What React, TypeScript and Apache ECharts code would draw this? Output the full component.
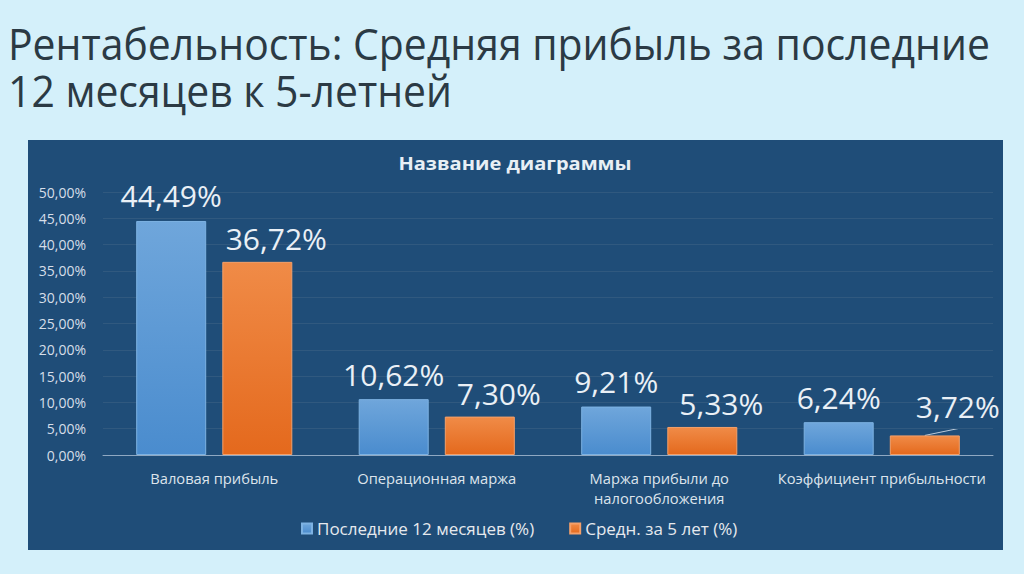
import React, { useEffect, useRef } from "react";
import * as echarts from "echarts";

const categories = [
  "Валовая прибыль",
  "Операционная маржа",
  "Маржа прибыли до\nналогообложения",
  "Коэффициент прибыльности",
];
const last12 = [44.49, 10.62, 9.21, 6.24];
const avg5 = [36.72, 7.3, 5.33, 3.72];
const seriesNames = ["Последние 12 месяцев (%)", "Средн. за 5 лет (%)"];
const titleLines = ["Рентабельность: Средняя прибыль за последние", "12 месяцев к 5-летней"];
const chartTitle = "Название диаграммы";

const fmt = (v: number) => v.toFixed(2).replace(".", ",") + "%";
const FONT = "'Open Sans', 'Noto Sans', sans-serif";

export default function App() {
  const ref = useRef<HTMLDivElement>(null);
  useEffect(() => {
    if (!ref.current) return;
    const chart = echarts.init(ref.current, null, { renderer: "svg" });
    const blue = new echarts.graphic.LinearGradient(0, 0, 0, 1, [
      { offset: 0, color: "#6fa6db" },
      { offset: 1, color: "#4a8cce" },
    ]);
    const orange = new echarts.graphic.LinearGradient(0, 0, 0, 1, [
      { offset: 0, color: "#f08b47" },
      { offset: 1, color: "#e4691d" },
    ]);
    const baseGraphic: any[] = [
      {
        id: "panel",
        type: "rect",
        z: -10,
        shape: { x: 28, y: 140, width: 975, height: 410 },
        style: { fill: "#1f4d78" },
        silent: true,
      },
      {
        id: "mainTitle",
        type: "text",
        x: 8,
        y: 19,
        scaleX: 0.93,
        style: {
          text: titleLines.join("\n"),
          fontSize: 44,
          lineHeight: 47,
          fontFamily: FONT,
          fill: "#2b3a44",
        },
      },
      {
        id: "chartTitle",
        type: "text",
        x: 515,
        y: 163,
        scaleX: 1.18,
        style: {
          text: chartTitle,
          fontSize: 17,
          fontWeight: "bold",
          fontFamily: FONT,
          fill: "#e8eff5",
          align: "center",
          verticalAlign: "middle",
        },
      },
    ];
    chart.setOption({
      animation: false,
      backgroundColor: "#d4f0fa",
      textStyle: { fontFamily: FONT },
      graphic: baseGraphic,
      legend: {
        bottom: 32,
        left: 296,
        itemWidth: 10,
        itemHeight: 10,
        itemGap: 35,
        icon: "rect",
        textStyle: { color: "#e6e9ee", fontSize: 17, fontFamily: FONT },
        data: seriesNames,
      },
      grid: { left: 103, right: 31, top: 192, bottom: 119 },
      xAxis: {
        type: "category",
        data: categories,
        axisLine: { lineStyle: { color: "#8fa8c2", width: 1 } },
        axisTick: { show: false },
        axisLabel: { color: "#dde4ec", fontSize: 14.7, margin: 13, lineHeight: 20, interval: 0 },
      },
      yAxis: {
        type: "value",
        min: 0,
        max: 50,
        interval: 5,
        axisLine: { show: false },
        axisTick: { show: false },
        splitLine: { lineStyle: { color: "#30597f", width: 1 } },
        axisLabel: { color: "#d6dee8", fontSize: 14, margin: 17, formatter: (v: number) => fmt(v) },
      },
      series: [
        {
          name: seriesNames[0],
          type: "bar",
          data: last12,
          barWidth: 70,
          barGap: "23%",
          itemStyle: { color: blue, borderColor: "#7db2e2", borderWidth: 1 },
          label: {
            show: true,
            position: "top",
            distance: 10,
            color: "#eaf0f6",
            fontSize: 30,
            fontFamily: FONT,
            formatter: (p: any) => fmt(p.value),
          },
        },
        {
          name: seriesNames[1],
          type: "bar",
          data: avg5,
          barWidth: 70,
          itemStyle: { color: orange, borderColor: "#f4a06a", borderWidth: 1 },
          label: {
            show: true,
            position: "top",
            distance: 8,
            color: "#eaf0f6",
            fontSize: 30,
            fontFamily: FONT,
            formatter: (p: any) => fmt(p.value),
          },
          labelLayout: (p: any) =>
            p.dataIndex === 3 ? { dx: 33, dy: -6 } : { dx: 19, dy: 0 },
        },
      ],
    });
    // leader line for the last orange label, anchored on the bar's own layout
    const model: any = (chart as any).getModel();
    const data = model.getSeriesByIndex(1).getData();
    const lay = data.getItemLayout(3);
    if (lay) {
      const x0 = lay.x + lay.width / 2;
      const yTop = Math.min(lay.y, lay.y + lay.height);
      chart.setOption({
        graphic: [
          ...baseGraphic,
          {
            id: "leader",
            type: "line",
            shape: { x1: x0, y1: yTop, x2: x0 + 34, y2: yTop - 7 },
            style: { stroke: "#b9c9d9", lineWidth: 1 },
            silent: true,
          },
        ],
      });
    }
    return () => chart.dispose();
  }, []);
  return (
    <div
      ref={ref}
      style={{ position: "fixed", left: 0, top: 0, width: 1024, height: 574 }}
    />
  );
}
